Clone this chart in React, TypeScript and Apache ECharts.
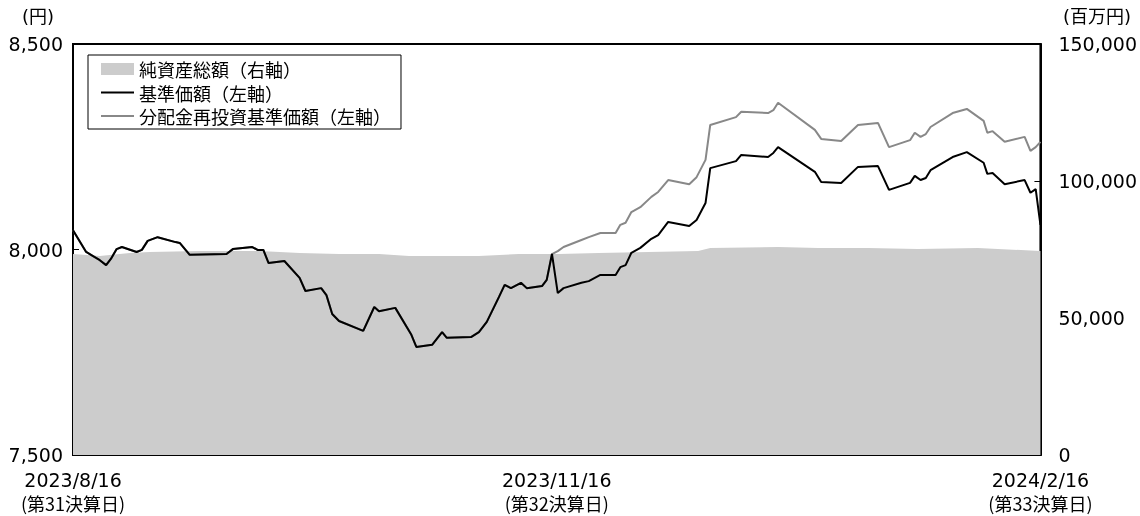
import React, { useEffect, useRef } from "react";
import * as echarts from "echarts";

// x values: calendar days since 2023/8/16 (2024/2/16 = day 184)
const xTickValues = [0, 92, 184];
const xTickDates = ["2023/8/16", "2023/11/16", "2024/2/16"];
const xTickNotes = ["(第31決算日)", "(第32決算日)", "(第33決算日)"];

const navDays = [
  0, 2.5, 5.1, 6.3, 7.2, 8.3, 9.3, 12.1, 13.1, 14.2, 16.1, 19.5, 20.3, 22.2, 29.2, 30.4, 34.1, 35.1, 36.2, 37.2,
  40.2, 43.1, 44.2, 47.2, 48.2, 49.3, 50.6, 55.2, 57.3, 58.2, 61.3, 64.3, 65.3, 68.3, 70.2, 71.1, 75.7, 77.2,
  78.7, 81.0, 82.1, 83.3, 85.2, 86.3, 89.2, 90.1, 91.1,
  92.2, 93.3, 96.7, 98.1, 100.3, 103.2, 104.1, 105.1, 106.2, 107.9, 110.0, 111.3, 113.2, 117.2, 118.6, 120.3,
  121.2, 126.1, 127.1, 132.2, 133.2, 134.1, 141.1, 142.3, 146.1, 149.3, 153.1, 155.2, 159.2, 160.1, 161.2,
  162.2, 163.1, 167.3, 170.0, 173.2, 173.9, 174.9, 177.2, 181.0, 182.1, 183.1, 184,
];

// 基準価額（円）
const navValues = [
  8047, 7994, 7974, 7962, 7977, 8001, 8006, 7994, 7999, 8021, 8030, 8018, 8016, 7987, 7989, 8001, 8006, 7999, 7999,
  7967, 7972, 7931, 7899, 7906, 7889, 7843, 7826, 7802, 7860, 7850, 7858, 7794, 7763, 7768, 7799, 7785, 7787, 7799,
  7824, 7884, 7914, 7906, 7919, 7906, 7911, 7926, 7989,
  7894, 7906, 7919, 7923, 7938, 7938, 7957, 7962, 7992, 8004, 8026, 8035, 8067, 8057, 8072, 8113, 8198, 8215, 8230,
  8225, 8235, 8249, 8189, 8164, 8162, 8201, 8203, 8145, 8162, 8179, 8169, 8174, 8193, 8225, 8237, 8211, 8184, 8186,
  8159, 8169, 8138, 8147, 8060,
];

// 分配金再投資基準価額（円）: same as 基準価額 up to the 11/16 settlement, then these values
const sharedCount = 47;
const reinvestedTail = [
  7996, 8006, 8023, 8030, 8040, 8040, 8060, 8065, 8091, 8103, 8128, 8140, 8169, 8159, 8176, 8218, 8303, 8322, 8335,
  8332, 8339, 8357, 8291, 8269, 8264, 8303, 8308, 8249, 8266, 8284, 8274, 8281, 8298, 8332, 8342, 8313, 8284, 8288,
  8262, 8274, 8240, 8249, 8262,
];

// 純資産総額（百万円）
const aumDays = [0, 5.1, 10.8, 14.6, 24.1, 35.5, 43.1, 50.6, 58.2, 63.9, 77.2, 84.8, 92.4, 100, 109.5, 118.9, 121.2, 134.1, 141.7, 151.2, 160.7, 172.1, 184];
const aumValues = [73365, 72635, 73730, 74095, 74460, 74460, 73730, 73365, 73365, 72635, 72635, 73365, 73365, 73730, 74095, 74460, 75555, 75920, 75555, 75555, 75190, 75555, 74460];

const seriesNames = ["純資産総額（右軸）", "基準価額（左軸）", "分配金再投資基準価額（左軸）"];

const FONT = '"Noto Sans CJK JP", "Noto Sans", sans-serif';
const NUMFONT = '"DejaVu Sans", "Noto Sans CJK JP", sans-serif';

export default function App() {
  const ref = useRef<HTMLDivElement>(null);
  useEffect(() => {
    if (!ref.current) return;
    const chart = echarts.init(ref.current, undefined, { renderer: "svg" });
    const reinvestedValues = navValues.slice(0, sharedCount).concat(reinvestedTail);
    const nav = navDays.map((d, i) => [d, navValues[i]]);
    const reinv = navDays.map((d, i) => [d, reinvestedValues[i]]);
    const aum = aumDays.map((d, i) => [d, aumValues[i]]);
    const fmt = (v: number) => v.toLocaleString("en-US");
    chart.setOption({
      animation: false,
      textStyle: { fontFamily: FONT },
      grid: { left: 73, right: 97, top: 44, bottom: 61, show: true, borderColor: "#000", borderWidth: 2, backgroundColor: "transparent" },
      legend: {
        left: 88,
        top: 55,
        orient: "vertical",
        itemWidth: 33,
        itemHeight: 12,
        itemGap: 3.5,
        padding: [4, 10, 3, 12],
        borderColor: "#000",
        borderWidth: 1,
        backgroundColor: "#fff",
        textStyle: { fontSize: 18, lineHeight: 20, color: "#000", fontFamily: FONT },
        data: [
          { name: seriesNames[0], icon: "rect", itemStyle: { color: "#cccccc" } },
          { name: seriesNames[1], itemStyle: { opacity: 0 } },
          { name: seriesNames[2], itemStyle: { opacity: 0 } },
        ],
      },
      xAxis: {
        type: "value",
        min: 0,
        max: 184,
        interval: 92,
        axisLine: { show: true, lineStyle: { color: "#000", width: 2 } },
        axisTick: { show: true, inside: true, length: 6, lineStyle: { color: "#000" } },
        splitLine: { show: false },
        axisLabel: {
          color: "#000",
          margin: 13,
          showMinLabel: true,
          showMaxLabel: true,
          rich: {
            d: { fontSize: 19, fontFamily: NUMFONT, color: "#000", lineHeight: 23, align: "center" },
            n: { fontSize: 18, fontFamily: FONT, color: "#000", lineHeight: 23, align: "center" },
          },
          formatter: (v: number) => {
            const i = xTickValues.indexOf(v);
            return i >= 0 ? `{d|${xTickDates[i]}}\n{n|${xTickNotes[i]}}` : "";
          },
        },
      },
      yAxis: [
        {
          type: "value",
          min: 7500,
          max: 8500,
          interval: 500,
          position: "left",
          axisLine: { show: true, lineStyle: { color: "#000", width: 2 } },
          axisTick: { show: true, inside: true, length: 6, lineStyle: { color: "#000" } },
          splitLine: { show: false },
          axisLabel: { fontSize: 19, color: "#000", fontFamily: NUMFONT, margin: 10, formatter: fmt },
        },
        {
          type: "value",
          min: 0,
          max: 150000,
          interval: 50000,
          position: "right",
          axisLine: { show: true, lineStyle: { color: "#000", width: 2 } },
          axisTick: { show: true, inside: true, length: 6, lineStyle: { color: "#000" } },
          splitLine: { show: false },
          axisLabel: { fontSize: 19, color: "#000", fontFamily: NUMFONT, margin: 18, formatter: fmt },
        },
      ],
      graphic: [
        { type: "text", left: 22, top: 7, style: { text: "(円)", fontSize: 18, fill: "#000", fontFamily: NUMFONT } },
        { type: "text", left: 1063, top: 7, style: { text: "(百万円)", fontSize: 18, fill: "#000", fontFamily: NUMFONT } },
      ],
      series: [
        {
          name: seriesNames[0],
          type: "line",
          yAxisIndex: 1,
          data: aum,
          symbol: "none",
          lineStyle: { width: 0, color: "#cccccc" },
          itemStyle: { color: "#cccccc" },
          areaStyle: { color: "#cccccc", opacity: 1 },
          z: 1,
        },
        {
          name: seriesNames[2],
          type: "line",
          yAxisIndex: 0,
          data: reinv,
          symbol: "none",
          lineStyle: { width: 2, color: "#888888" },
          itemStyle: { color: "#888888" },
          z: 2,
        },
        {
          name: seriesNames[1],
          type: "line",
          yAxisIndex: 0,
          data: nav,
          symbol: "none",
          lineStyle: { width: 2, color: "#000000" },
          itemStyle: { color: "#000000" },
          z: 3,
        },
      ],
    });
    return () => chart.dispose();
  }, []);
  return <div ref={ref} style={{ position: "fixed", left: 0, top: 0, width: 1140, height: 516 }} />;
}
